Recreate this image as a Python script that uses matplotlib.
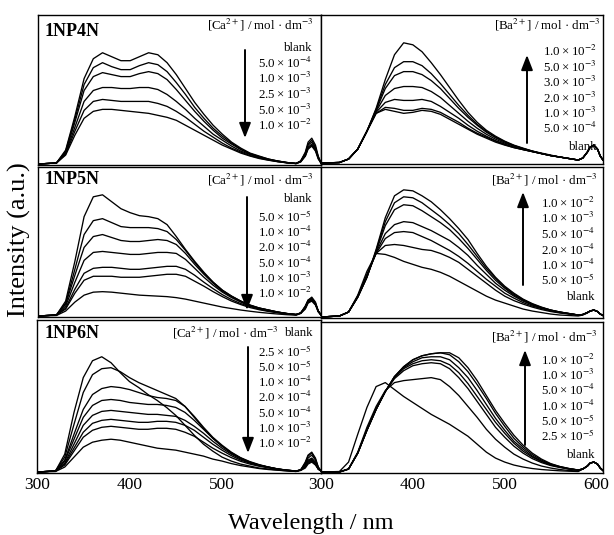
import matplotlib.pyplot as plt
from matplotlib.patches import FancyArrowPatch

plt.rcParams['font.family'] = ['Liberation Serif', 'DejaVu Serif']
plt.rcParams['mathtext.fontset'] = 'stix'

W, H = 614, 535

# common wavelength grid (nm), last points cover the scatter peak near 597 nm
wavelength = [300, 320, 330, 340, 350, 360, 370, 380, 390, 400, 410, 420, 430, 440,
              450, 460, 470, 480, 490, 500, 510, 520, 530, 540, 550, 560, 570, 580,
              585, 590, 593, 597, 601, 604, 607]

X = '\u2009×\u200910'  # "×10" with thin spaces, as in the printed labels

# ---- 1NP4N + Ca2+ ----
np4n_ca_labels = ['blank', '5.0' + X + '$^{-4}$', '1.0' + X + '$^{-3}$', '2.5' + X + '$^{-3}$',
                  '5.0' + X + '$^{-3}$', '1.0' + X + '$^{-2}$']
np4n_ca = [
    [0, 1, 14, 48, 86, 106, 112, 108, 104, 104, 108, 112, 110, 102, 90, 76, 62, 50, 39, 30, 22, 16, 11, 8, 5, 3, 1.5, 0.5, 3, 12, 22, 26, 19, 8, 1],
    [0, 1, 13, 45, 80, 97, 102, 98, 95, 95, 99, 102, 100, 93, 82, 70, 57, 46, 36, 28, 21, 15, 10.5, 7.5, 5, 3, 1.5, 0.5, 3, 11, 20, 24, 17, 7, 1],
    [0, 1, 12, 42, 74, 88, 92, 90, 88, 88, 91, 93, 91, 85, 75, 64, 53, 43, 34, 26, 20, 14.5, 10, 7, 4.5, 3, 1.5, 0.5, 3, 10, 19, 22, 16, 7, 1],
    [0, 1, 11, 37, 63, 74, 77, 77, 76, 76, 77, 77, 75, 70, 63, 55, 46, 38, 30, 24, 18, 13, 9.5, 6.5, 4.5, 2.5, 1.3, 0.5, 2.5, 9, 17, 20, 15, 6, 1],
    [0, 1, 10, 33, 54, 63, 65, 64, 63, 63, 63, 63, 61, 58, 53, 47, 40, 33, 27, 21, 16, 12, 8.5, 6, 4, 2.5, 1.2, 0.5, 2.5, 8, 16, 19, 14, 6, 1],
    [0, 1, 9, 29, 46, 53, 55, 55, 54, 53, 52, 51, 49, 47, 44, 39, 34, 29, 24, 19, 15, 11, 8, 5.5, 3.8, 2.3, 1.2, 0.5, 2, 8, 15, 18, 13, 5, 1],
]

# ---- 1NP4N + Ba2+ ----
np4n_ba_labels = ['1.0' + X + '$^{-2}$', '5.0' + X + '$^{-3}$', '3.0' + X + '$^{-3}$', '2.0' + X + '$^{-3}$',
                  '1.0' + X + '$^{-3}$', '5.0' + X + '$^{-4}$', 'blank']
np4n_ba = [
    [0, 0.5, 4, 14, 32, 55, 84, 109, 121, 119, 112, 101, 89, 76, 63, 51, 41, 33, 27, 22, 18, 15, 12, 10, 8, 6, 4.5, 3, 5, 11, 16, 18, 14, 7, 3],
    [0, 0.5, 4, 14, 32, 54, 79, 96, 102, 102, 98, 90, 80, 69, 58, 48, 39, 32, 26, 21.5, 17.5, 14.5, 12, 9.5, 7.5, 6, 4.5, 3, 5, 11, 16, 18, 14, 7, 3],
    [0, 0.5, 4, 14, 32, 53, 75, 88, 92, 92, 89, 83, 75, 65, 55, 46, 38, 31, 25.5, 21, 17.5, 14.5, 12, 9.5, 7.5, 6, 4.5, 3, 5, 11, 16, 18, 14, 7, 3],
    [0, 0.5, 4, 14, 32, 52, 68, 75, 77, 77, 76, 72, 66, 58, 50, 42, 35, 29, 24, 20, 17, 14, 11.5, 9.5, 7.5, 6, 4.5, 3, 5, 11, 16, 18, 14, 7, 3],
    [0, 0.5, 4, 14, 32, 51, 61, 64, 63, 63, 64, 62, 57, 51, 45, 38, 32, 27, 22.5, 19, 16, 13.5, 11.5, 9.5, 7.5, 6, 4.5, 3, 5, 11, 16, 18, 14, 7, 3],
    [0, 0.5, 4, 14, 32, 50, 56, 55, 53, 53, 55, 54, 51, 46, 41, 35, 30, 26, 22, 18.5, 15.5, 13.5, 11.5, 9.5, 7.5, 6, 4.5, 3, 5, 11, 16, 18, 14, 7, 3],
    [0, 0.5, 4, 14, 32, 50, 54, 52, 50, 51, 53, 52, 49, 44, 39, 34, 29, 25, 21, 18, 15.5, 13.5, 11.5, 9.5, 7.5, 6, 4.5, 3, 5, 11, 16, 18, 14, 7, 3],
]

# ---- 1NP5N + Ca2+ ----
np5n_ca_labels = ['blank', '5.0' + X + '$^{-5}$', '1.0' + X + '$^{-4}$', '2.0' + X + '$^{-4}$',
                  '5.0' + X + '$^{-4}$', '1.0' + X + '$^{-3}$', '1.0' + X + '$^{-2}$']
np5n_ca = [
    [0, 1, 15, 55, 100, 120, 122, 115, 108, 104, 101, 100, 98, 92, 80, 67, 55, 44, 34, 26, 20, 15, 11, 8, 6, 4, 2.5, 1.5, 3, 10, 16, 19, 14, 5, 1],
    [0, 1, 13, 47, 82, 96, 98, 94, 90, 89, 89, 89, 88, 85, 77, 66, 54, 43, 34, 26, 20, 15, 11, 8, 6, 4, 2.5, 1.5, 3, 10, 16, 18, 13, 5, 1],
    [0, 1, 12, 41, 69, 80, 82, 79, 76, 75, 75, 76, 77, 76, 72, 63, 52, 42, 33, 25, 19.5, 14.5, 10.5, 8, 6, 4, 2.5, 1.5, 3, 9, 15, 17, 12, 5, 1],
    [0, 1, 10, 34, 56, 64, 65, 64, 63, 62, 62, 63, 64, 64, 63, 57, 48, 39, 31, 24, 18.5, 14, 10, 7.5, 5.5, 3.8, 2.4, 1.5, 3, 9, 15, 17, 12, 5, 1],
    [0, 1, 8, 27, 43, 48, 49, 49, 48, 47, 47, 48, 49, 50, 50, 47, 41, 34, 27.5, 21.5, 16.5, 12.5, 9.5, 7, 5, 3.5, 2.3, 1.4, 3, 8, 14, 16, 12, 5, 1],
    [0, 1, 7, 23, 36, 40, 40, 40, 39, 39, 39, 40, 41, 42, 42, 40, 35, 30, 24.5, 19.5, 15, 11.5, 8.5, 6.3, 4.6, 3.2, 2.1, 1.3, 3, 8, 14, 16, 12, 5, 1],
    [0, 0.5, 5, 14, 21, 24, 24.5, 24, 23, 22, 21, 20.5, 20, 19.5, 18.5, 17, 15, 13, 11, 9, 7.5, 6, 4.8, 3.7, 2.8, 2, 1.3, 0.8, 2.5, 7, 13, 15, 11, 4, 1],
]

# ---- 1NP5N + Ba2+ ----
np5n_ba_labels = ['1.0' + X + '$^{-2}$', '1.0' + X + '$^{-3}$', '5.0' + X + '$^{-4}$', '2.0' + X + '$^{-4}$',
                  '1.0' + X + '$^{-4}$', '5.0' + X + '$^{-5}$', 'blank']
np5n_ba = [
    [0, 1, 5, 20, 40, 68, 100, 122, 128, 127, 122, 116, 108, 99, 89, 78, 64, 51, 40, 31, 24, 18, 13.5, 10, 7, 5, 3.5, 2, 2.5, 4.5, 6, 7, 5.5, 3, 1.5],
    [0, 1, 5, 20, 40, 67, 96, 115, 121, 120, 115, 108, 101, 93, 84, 73, 61, 49, 39, 30, 23, 17.5, 13, 9.5, 7, 5, 3.5, 2, 2.5, 4.5, 6, 7, 5.5, 3, 1.5],
    [0, 1, 5, 20, 40, 66, 92, 108, 113, 112, 107, 101, 95, 88, 79, 69, 58, 47, 37, 29, 22, 17, 12.5, 9.5, 7, 5, 3.5, 2, 2.5, 4.5, 6, 7, 5.5, 3, 1.5],
    [0, 1, 5, 20, 41, 65, 84, 93, 96, 95, 91, 87, 82, 77, 70, 62, 52, 43, 34, 27, 21, 16, 12, 9, 6.5, 4.8, 3.3, 2, 2.5, 4.5, 6, 7, 5.5, 3, 1.5],
    [0, 1, 5, 21, 42, 64, 79, 85, 86, 85, 81, 77, 72, 67, 61, 54, 46, 38, 31, 24, 19, 14.5, 11, 8.5, 6.2, 4.5, 3.2, 2, 2.5, 4.5, 6, 7, 5.5, 3, 1.5],
    [0, 1, 5, 21, 43, 64, 72, 73, 72, 70, 68, 67, 64, 60, 55, 48, 41, 34, 27, 21, 16.5, 13, 10, 7.5, 5.5, 4, 3, 2, 2.5, 4.5, 6, 7, 5.5, 3, 1.5],
    [0, 1, 5, 22, 46, 64, 63, 60, 56, 53, 50, 48, 45, 41, 36, 31, 26, 21, 17, 14, 11, 8, 6, 4.5, 3, 2, 1.5, 1, 2, 4, 6, 7, 5.5, 3, 1.5],
]

# ---- 1NP6N + Ca2+ ----
np6n_ca_labels = ['2.5' + X + '$^{-5}$', '5.0' + X + '$^{-5}$', '1.0' + X + '$^{-4}$', '2.0' + X + '$^{-4}$',
                  '5.0' + X + '$^{-4}$', '1.0' + X + '$^{-3}$', '1.0' + X + '$^{-2}$']
np6n_ca = [
    [0, 1, 18, 60, 95, 112, 116, 110, 100, 91, 85, 78, 72, 65, 57, 47, 37, 28, 21, 15, 11, 8, 6, 4, 3, 2, 1.2, 0.5, 2, 10, 17, 20, 14, 5, 1],
    [0, 1, 15, 48, 80, 98, 104, 105, 101, 95, 90, 86, 82, 78, 74, 66, 55, 44, 34, 26, 19, 14, 10, 7, 5, 3, 1.8, 1, 2, 9, 16, 19, 13, 5, 1],
    [0, 1, 12, 38, 63, 78, 84, 86, 85, 83, 80, 77, 75, 74, 72, 66, 56, 45, 35, 27, 20, 14.5, 10.5, 7.5, 5, 3.2, 1.9, 1, 2, 8, 14, 17, 12, 4, 1],
    [0, 1, 11, 33, 55, 67, 72, 73, 72, 70, 69, 68, 68, 67, 65, 60, 52, 43, 34, 26, 19.5, 14, 10, 7, 5, 3.1, 1.8, 1, 2, 7, 12, 14, 10, 4, 1],
    [0, 1, 9, 28, 47, 57, 61, 62, 61, 60, 59, 58, 58, 57, 56, 52, 46, 39, 31, 24, 18, 13, 9.5, 6.8, 4.8, 3, 1.8, 1, 2, 6, 11, 13, 9, 3, 1],
    [0, 1, 8, 24, 40, 49, 52, 53, 52, 51, 50, 50, 51, 51, 50, 47, 42, 35, 28, 22, 16.5, 12, 9, 6.5, 4.6, 2.9, 1.7, 1, 2, 6, 10, 12, 8, 3, 1],
    [0, 1, 7, 21, 35, 42, 45, 46, 45, 44, 43, 43, 44, 44, 43, 40, 36, 30, 24, 19, 14.5, 10.8, 8, 5.8, 4.2, 2.7, 1.6, 1, 2, 5, 9, 11, 8, 3, 1],
    [0, 0.5, 5, 15, 25, 30, 32, 33, 32, 30, 28, 26, 24, 23, 22, 20, 18, 16, 13, 11, 8.5, 6.5, 5, 3.5, 2.5, 1.8, 1.1, 0.6, 1.5, 4, 8, 10, 7, 3, 1],
]

# ---- 1NP6N + Ba2+ ----
np6n_ba_labels = ['1.0' + X + '$^{-2}$', '1.0' + X + '$^{-3}$', '5.0' + X + '$^{-4}$', '1.0' + X + '$^{-4}$',
                  '5.0' + X + '$^{-5}$', '2.5' + X + '$^{-5}$', 'blank']
np6n_ba = [
    [0, 0, 3, 19, 42, 63, 81, 96, 106, 113, 117, 119, 120, 120, 115, 105, 92, 77, 62, 49, 37, 27, 19, 13, 8.5, 5.5, 3.5, 2, 3, 6, 9, 10, 8, 4, 1.5],
    [0, 0, 3, 19, 42, 63, 81, 96, 106, 113, 117, 119, 120, 118, 111, 101, 88, 74, 59, 46, 34, 25, 17.5, 12, 8, 5.5, 3.5, 2, 3, 6, 9, 10, 8, 4, 1.5],
    [0, 0, 3, 19, 42, 63, 81, 96, 105, 111, 115, 116, 116, 113, 105, 95, 82, 68, 54, 42, 31, 23, 16, 11, 7.5, 5, 3.2, 2, 3, 6, 9, 10, 8, 4, 1.5],
    [0, 0, 3, 19, 42, 63, 81, 95, 104, 109, 112, 113, 112, 108, 100, 89, 76, 63, 50, 39, 29, 21, 15, 10.5, 7, 5, 3, 2, 3, 6, 9, 10, 8, 4, 1.5],
    [0, 0, 3, 19, 43, 64, 81, 94, 102, 107, 109, 110, 109, 104, 95, 84, 71, 58, 45, 35, 26, 19, 13.5, 9.5, 6.5, 4.5, 3, 2, 3, 6, 9, 10, 8, 4, 1.5],
    [0, 0, 3, 20, 45, 66, 82, 90, 92, 93, 94, 95, 93, 86, 77, 66, 55, 43, 33, 25, 18, 13, 9, 6, 4, 2.5, 1.5, 1, 3, 6, 9, 10, 8, 4, 1.5],
    [0, 0.5, 10, 38, 65, 86, 90, 83, 76, 70, 64, 58, 53, 48, 42, 36, 28, 20, 14, 10, 7, 5, 3.5, 2.5, 1.8, 1.2, 0.8, 0.5, 3, 6, 9, 10, 8, 4, 1.5],
]

fig = plt.figure(figsize=(W / 100, H / 100), dpi=100)


def put(x, y, s, **kw):
    # place text using pixel coords of the picture (y from top)
    fig.text(x / W, 1 - y / H, s, **kw)


def arrow(x, y0, y1):
    fig.add_artist(FancyArrowPatch((x / W, 1 - y0 / H), (x / W, 1 - y1 / H),
                                   transform=fig.transFigure, color='k', lw=1.4,
                                   arrowstyle='-|>,head_length=0.9,head_width=0.35',
                                   mutation_scale=10, shrinkA=0, shrinkB=0))


def panel(box, curves, ticks=None, ticklabels=None):
    x0, y0, x1, y1 = box
    ax = fig.add_axes([x0 / W, 1 - y1 / H, (x1 - x0) / W, (y1 - y0) / H])
    for c in curves:
        ax.plot(wavelength, c, color='k', lw=0.95)
    ax.set_xlim(300, 607)
    ax.set_ylim(-1, y1 - y0)
    ax.set_yticks([])
    if ticks is None:
        ax.set_xticks([])
    else:
        ax.set_xticks(ticks)
        ax.set_xticklabels(ticklabels, fontsize=12.5)
        ax.tick_params(axis='x', length=0, pad=3)
    for s in ax.spines.values():
        s.set_linewidth(1.0)
    return ax


small = 9.3

# row 1 : 1NP4N
panel((38, 15, 321, 165), np4n_ca)
put(45, 32, '1NP4N', fontsize=13, fontweight='bold', va='center')
put(313, 25, '[Ca$^{2+}$] / mol · dm$^{-3}$', fontsize=small, ha='right', va='center')
for lab, y in zip(np4n_ca_labels, [48, 63, 78, 94, 110, 125]):
    put(312, y, lab, fontsize=small, ha='right', va='center')
arrow(245, 50, 138)

panel((321, 15, 603, 164), np4n_ba)
put(600, 25, '[Ba$^{2+}$] / mol · dm$^{-3}$', fontsize=small, ha='right', va='center')
for lab, y in zip(np4n_ba_labels, [51, 67, 82, 98, 113, 128, 147]):
    put(597, y, lab, fontsize=small, ha='right', va='center')
arrow(527, 143, 55)

# row 2 : 1NP5N
panel((38, 167, 321, 317), np5n_ca)
put(45, 180, '1NP5N', fontsize=13, fontweight='bold', va='center')
put(313, 180, '[Ca$^{2+}$] / mol · dm$^{-3}$', fontsize=small, ha='right', va='center')
for lab, y in zip(np5n_ca_labels, [199, 217, 232, 247, 263, 278, 293]):
    put(312, y, lab, fontsize=small, ha='right', va='center')
arrow(247, 197, 310)

panel((321, 167, 603, 318), np5n_ba)
put(597, 180, '[Ba$^{2+}$] / mol · dm$^{-3}$', fontsize=small, ha='right', va='center')
for lab, y in zip(np5n_ba_labels, [203, 218, 234, 250, 265, 280, 297]):
    put(595, y, lab, fontsize=small, ha='right', va='center')
arrow(523, 285, 192)

# row 3 : 1NP6N
panel((37, 320, 321, 473), np6n_ca, [300, 400, 500], ['300', '400', '500'])
put(45, 333, '1NP6N', fontsize=13, fontweight='bold', va='center')
put(278, 333, '[Ca$^{2+}$] / mol · dm$^{-3}$', fontsize=small, ha='right', va='center')
put(313, 333, 'blank', fontsize=small, ha='right', va='center')
for lab, y in zip(np6n_ca_labels, [352, 367, 382, 397, 413, 428, 443]):
    put(312, y, lab, fontsize=small, ha='right', va='center')
arrow(248, 347, 453)

panel((321, 322, 603, 473), np6n_ba, [300, 400, 500, 600], ['300', '400', '500', '600'])
put(597, 337, '[Ba$^{2+}$] / mol · dm$^{-3}$', fontsize=small, ha='right', va='center')
for lab, y in zip(np6n_ba_labels, [360, 375, 390, 406, 421, 436, 455]):
    put(595, y, lab, fontsize=small, ha='right', va='center')
arrow(525, 445, 350)

# axis titles
put(19, 240, 'Intensity (a.u.)', fontsize=19, rotation=90, ha='center', va='center')
put(311, 523, 'Wavelength / nm', fontsize=17.5, ha='center', va='center')

fig.savefig('out.png', dpi=100)
